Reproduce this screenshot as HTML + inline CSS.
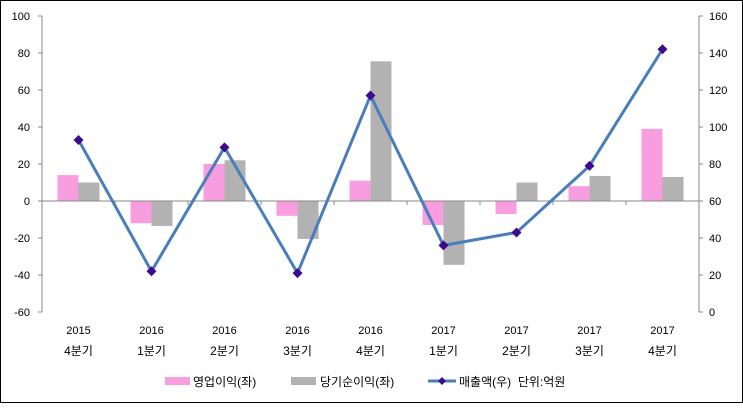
<!DOCTYPE html>
<html><head><meta charset="utf-8"><style>
body{margin:0;background:#fff}
svg text{font-family:"Liberation Sans","Noto Sans CJK KR",sans-serif;font-size:11px;fill:#000}
</style></head><body>
<svg width="743" height="403" viewBox="0 0 743 403">
<rect x="0.5" y="0.5" width="742" height="402" fill="#fff" stroke="#000"/>
<g id="g"></g>
</svg>
<script>
const years=["2015","2016","2016","2016","2016","2017","2017","2017","2017"];
const quarters=["4분기","1분기","2분기","3분기","4분기","1분기","2분기","3분기","4분기"];
const opProfit=[14,-12,20,-8,11,-13,-7,8,39];
const netProfit=[10,-13.5,22,-20.5,75.5,-34.5,10,13.5,13];
const revenue=[93,22,89,21,117,36,43,79,142];
const leftTicks=[100,80,60,40,20,0,-20,-40,-60];
const rightTicks=[160,140,120,100,80,60,40,20,0];
const NS="http://www.w3.org/2000/svg";
const g=document.getElementById('g');
const L=42,R=699,T=16,B=312;
const yL=v=>T+(100-v)/160*(B-T);
const yR=v=>T+(160-v)/160*(B-T);
const bw=(R-L)/years.length;
const cx=i=>L+bw*(i+0.5);
function mk(t,a,txt){const e=document.createElementNS(NS,t);for(const k in a)e.setAttribute(k,a[k]);if(txt!=null)e.textContent=txt;g.appendChild(e);return e;}
let e;
e=mk('line',{x1:L,y1:T,x2:L,y2:B,stroke:'#888'});


e=mk('line',{x1:R,y1:T,x2:R,y2:B,stroke:'#888'});


leftTicks.forEach(v=>{
 e=mk('line',{x1:L-4,y1:yL(v),x2:L,y2:yL(v),stroke:'#888'});
 
 
 e=mk('text',{x:L-12,y:yL(v)+4,'text-anchor':'end'},v);
 
 
});
rightTicks.forEach(v=>{
 e=mk('line',{x1:R,y1:yR(v),x2:R+4,y2:yR(v),stroke:'#888'});
 
 
 e=mk('text',{x:R+10,y:yR(v)+4},v);
 
 
});
years.forEach((y,i)=>{
 const x=cx(i),pw=21;
 const a=opProfit[i],b=netProfit[i];
 e=mk('rect',{x:x-pw,y:Math.min(yL(a),yL(0)),width:pw,height:Math.abs(yL(a)-yL(0)),fill:'#f89de0'});
 
 
 e=mk('rect',{x:x,y:Math.min(yL(b),yL(0)),width:pw,height:Math.abs(yL(b)-yL(0)),fill:'#b2b2b2'});
 
 
 e=mk('text',{x:x,y:334,'text-anchor':'middle'},y);
 
 
 e=mk('text',{x:x,y:355,'text-anchor':'middle','style':'font-size:12px'},quarters[i]);
 
 
 if(i>0){e=mk('line',{x1:L+bw*i,y1:yL(0),x2:L+bw*i,y2:yL(0)+4,stroke:'#888'});
 
 }
});
e=mk('line',{x1:L,y1:yL(0),x2:R,y2:yL(0),stroke:'#888'});


e=mk('polyline',{points:revenue.map((v,i)=>cx(i)+','+yR(v)).join(' '),fill:'none',stroke:'#4a7ebb',"stroke-width":3});


revenue.forEach((v,i)=>{const x=cx(i),y=yR(v);
 e=mk('polygon',{points:`${x},${y-5} ${x+5},${y} ${x},${y+5} ${x-5},${y}`,fill:'#3d0a91'});
 
 
});
e=mk('rect',{x:165,y:377,width:25,height:8,fill:'#f89de0'});


e=mk('text',{x:193,y:386,style:'font-size:12px'},'영업이익(좌)');


e=mk('rect',{x:291,y:377,width:25,height:8,fill:'#b2b2b2'});


e=mk('text',{x:320,y:386,style:'font-size:12px'},'당기순이익(좌)');


e=mk('line',{x1:428,y1:381,x2:456,y2:381,stroke:'#4a7ebb','stroke-width':3});


e=mk('polygon',{points:'442,377 446,381 442,385 438,381',fill:'#3d0a91'});


e=mk('text',{x:459,y:386,style:'font-size:12px;white-space:pre'},'매출액(우)\u00a0\u00a0단위:억원');


</script>
</body></html>
